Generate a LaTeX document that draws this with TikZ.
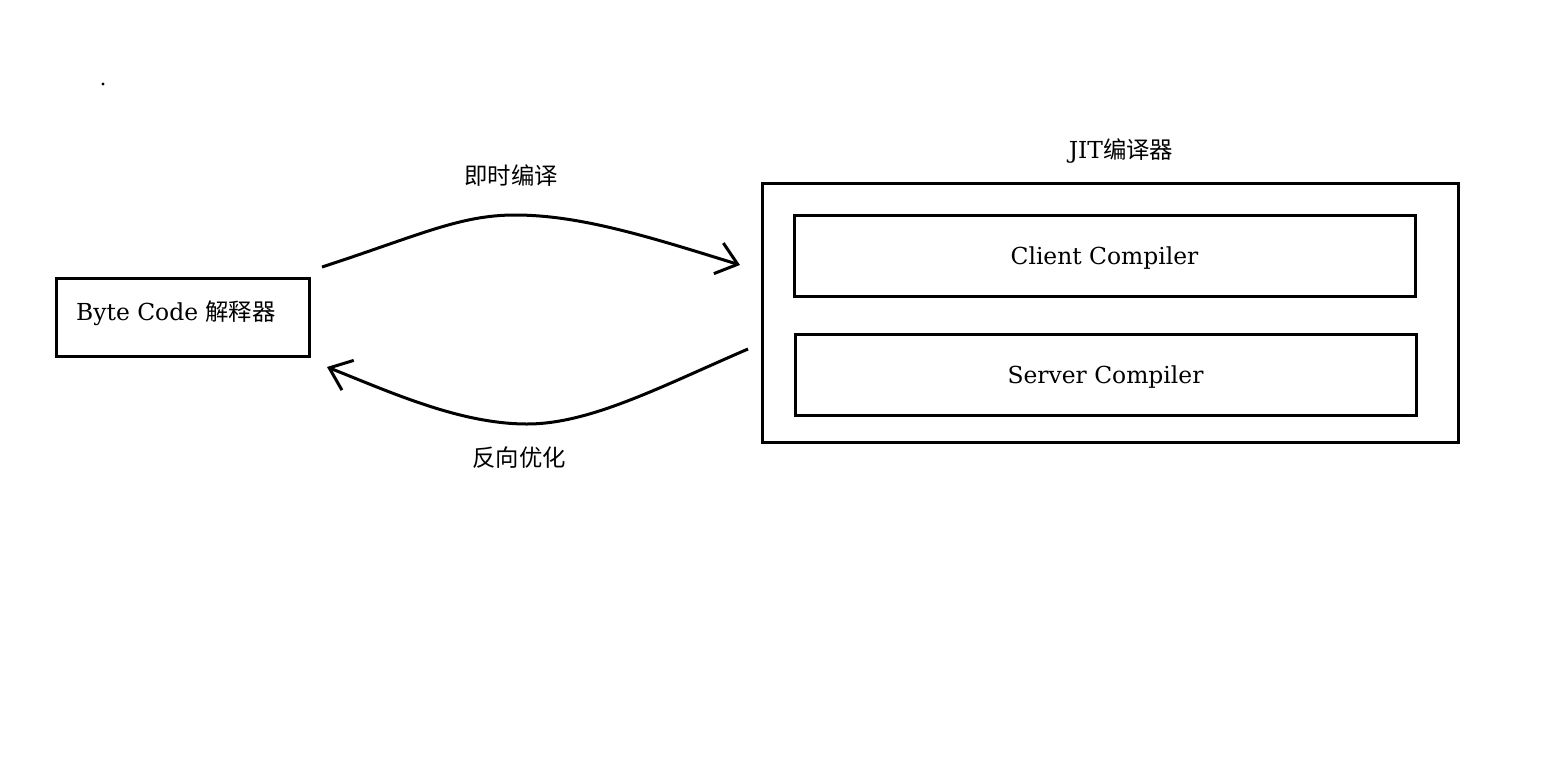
\documentclass[tikz,border=0pt]{standalone}
\usepackage{fontspec}
\setmainfont{DejaVu Serif}
\newfontfamily\cjk{Noto Sans CJK SC}
\usepackage{tikz}
\usetikzlibrary{arrows.meta}

\tikzset{
  every node/.style={font=\fontsize{11.7}{14}\selectfont},
  box/.style={draw, line width=1.5pt, rectangle, inner sep=0pt, text depth=0pt},
  flow/.style={line width=1.5pt, -{Straight Barb[length=10pt,width=16pt,line width=1.5pt]}}
}

\begin{document}
\begin{tikzpicture}[x=0.5pt,y=-0.5pt]

\useasboundingbox (0,0) rectangle (1541,766);

\fill (103,84) circle (0.8pt);

\node[box, minimum width=126.5pt, minimum height=39pt] (byte) at (182.5,317) {};

\node (bytetext) at (176,313) {Byte Code {\cjk 解释器}};

\node[box, minimum width=348pt, minimum height=129.5pt] (jit) at (1110,312.5) {};

\node (jittext) at (1121,151) {JIT{\cjk 编译器}};

\node[box, minimum width=310.5pt, minimum height=40.5pt] (client) at (1104.5,255.5) {Client Compiler};

\node[box, minimum width=310.5pt, minimum height=40.5pt] (server) at (1105.5,374.5) {Server Compiler};

\node (jitlabel) at (511,176) {\cjk 即时编译};

\node (backlabel) at (519,458) {\cjk 反向优化};

\coordinate (a1) at (322,267);
\coordinate (a2) at (740,265);
\coordinate (b1) at (748,349);
\coordinate (b2) at (327,367);

\draw[flow] (a1) .. controls (420,235) and (460,215) .. (515,215) .. controls (580,215) and (650,237) .. (a2);

\draw[flow] (b1) .. controls (660,387) and (590,424) .. (527,424) .. controls (460,424) and (390,392) .. (b2);

\end{tikzpicture}
\end{document}
